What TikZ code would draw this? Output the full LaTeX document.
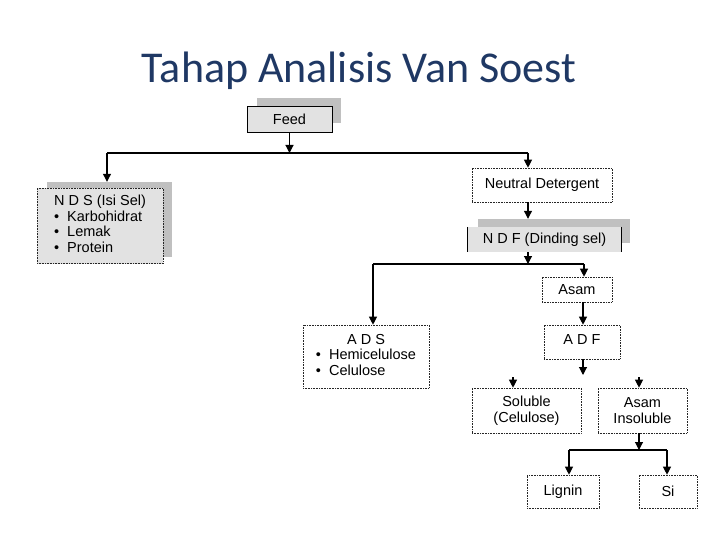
\documentclass[tikz,border=0pt]{standalone}
\usepackage{fontspec}
\setmainfont{Liberation Sans}
\newfontfamily\titlefont{Carlito}
\usetikzlibrary{arrows.meta}
\definecolor{titleblue}{RGB}{31,56,100}
\definecolor{backgray}{RGB}{192,192,192}
\definecolor{boxgray}{RGB}{226,226,226}

\begin{document}
\begin{tikzpicture}[x=1pt, y=-1pt, font=\fontsize{14.5}{15.5}\selectfont,
	dotbox/.style={rectangle, draw=black!85, densely dotted, line width=0.6pt, inner sep=0pt},
	greybox/.style={rectangle, fill=boxgray, inner sep=0pt},
	backbox/.style={rectangle, fill=backgray, inner sep=0pt},
	link/.style={line width=1.1pt},
	arr/.style={link, -{Triangle[length=8pt, width=8pt]}}]

		\useasboundingbox (0,0) rectangle (720,540);
		\node[anchor=base, text=titleblue, font=\titlefont\fontsize{44}{48}\selectfont] (title) at (359,83) {Tahap Analisis Van Soest};

		% boxes
		\node[backbox, minimum width=84, minimum height=25] (feedbg) at (299,110.5) {};
		\node[greybox, draw=black, line width=0.8pt, minimum width=85, minimum height=26] (feed) at (289.5,119) {Feed};
		\node[backbox, minimum width=125, minimum height=75] (ndsbg) at (109.5,219.5) {};
		\node[greybox, dotbox, minimum width=126, minimum height=75] (nds) at (100,226) {\begin{tabular}{@{}l@{}}\multicolumn{1}{@{}c@{}}{N D S (Isi Sel)}\\ \textbullet\ \ Karbohidrat\\ \textbullet\ \ Lemak\\ \textbullet\ \ Protein\end{tabular}};
		\node[dotbox, minimum width=140, minimum height=34] (nd) at (542,185) {Neutral Detergent};
		\node[backbox, minimum width=152, minimum height=24] (ndfbg) at (554,231) {};
		\node[greybox, minimum width=153, minimum height=25] (ndf) at (544.5,239.5) {N D F (Dinding sel)};
		\draw[line width=1pt] (ndf.north west) -- (ndf.south west) (ndf.north east) -- (ndf.south east);
		\node[dotbox, minimum width=70, minimum height=25] (asam) at (577,289.5) {Asam};
		\node[dotbox, minimum width=76, minimum height=34] (adf) at (582,342) {\raisebox{4pt}{A D F}};
		\node[dotbox, minimum width=126, minimum height=63] (ads) at (366,356.5) {\begin{tabular}{@{}l@{}}\multicolumn{1}{@{}c@{}}{A D S}\\ \textbullet\ \ Hemicelulose\\ \textbullet\ \ Celulose\end{tabular}};
		\node[dotbox, minimum width=109, minimum height=45, align=center] (sol) at (526.5,410.5) {Soluble\\(Celulose)};
		\node[dotbox, minimum width=89, minimum height=45, align=center] (ai) at (642.5,410.5) {Asam\\Insoluble};
		\node[dotbox, minimum width=72, minimum height=33] (lig) at (563,491.5) {Lignin};
		\node[dotbox, minimum width=58, minimum height=33] (si) at (668,491.5) {Si};

		% connectors
		\coordinate (s1) at (107,153);
		\coordinate (s2) at (528,153);
		\coordinate (t1) at (373,264);
		\coordinate (t2) at (584,264);
		\coordinate (u0) at (583,375);
		\coordinate (u1) at (513,377);
		\coordinate (u2) at (639,377);
		\coordinate (v1) at (569,450);
		\coordinate (v2) at (667,450);
		\draw[arr] (feed.south) -- (feed.south |- s1);
		\draw[link] (s1) -- (s2);
		\draw[arr] (s1) -- (s1 |- ndsbg.north);
		\draw[arr] (s2) -- (s2 |- nd.north);
		\draw[arr] (s2 |- nd.south) -- (s2 |- ndfbg.north);
		\draw[arr] (s2 |- ndf.south) -- (s2 |- t1);
		\draw[link] (t1) -- (t2);
		\draw[arr] (t1) -- (t1 |- ads.north);
		\draw[arr] (t2) -- (t2 |- asam.north);
		\draw[arr] (u0 |- asam.south) -- (u0 |- adf.north);
		\draw[arr] (u0 |- adf.south) -- (u0);
		\draw[arr] (u1) -- (u1 |- sol.north);
		\draw[arr] (u2) -- (u2 |- ai.north);
		\draw[arr] (u2 |- ai.south) -- (u2 |- v1);
		\draw[link] (v1) -- (v2);
		\draw[arr] (v1) -- (v1 |- lig.north);
		\draw[arr] (v2) -- (v2 |- si.north);
\end{tikzpicture}
\end{document}
